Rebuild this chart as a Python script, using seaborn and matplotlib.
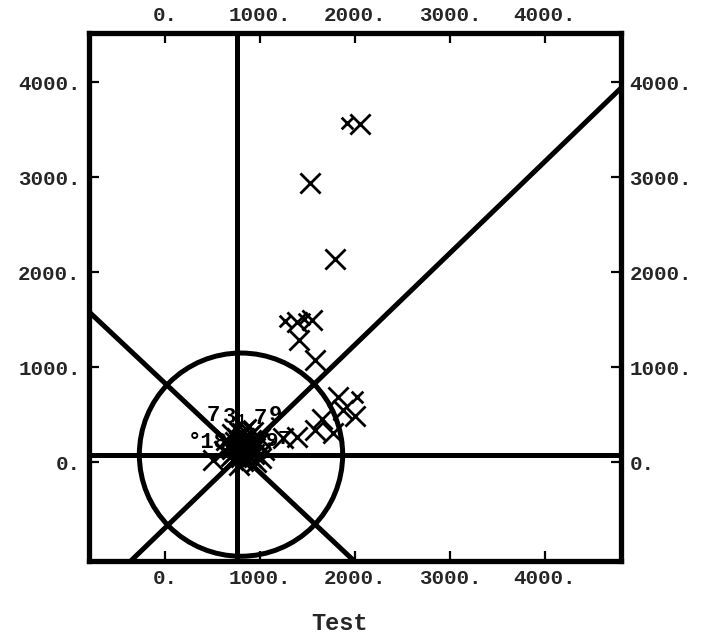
import matplotlib
matplotlib.use("Agg")
import matplotlib.pyplot as plt
from matplotlib.patches import Circle
import pandas as pd
import seaborn as sns

# --- data -------------------------------------------------------------
# large cross markers (Test, reference)
big_x = [2050, 1530, 1790, 1390, 1550, 1410, 1580, 1820, 2000, 1870,
         1650, 1390, 1580, 1770, 1240, 505,
         700, 760, 820, 880, 950, 800, 730, 900, 850, 680, 1000, 780,
         640, 720, 810, 930, 1040, 690, 870, 960, 760, 1010, 840, 620,
         740, 830, 910, 780, 860, 700, 980, 800, 890, 750, 820, 940]
big_y = [3560, 2940, 2140, 1480, 1500, 1290, 1080, 690, 490, 550,
         460, 270, 340, 310, 250, 20,
         300, 250, 200, 280, 150, 50, 100, 50, 350, 180, 250, -30,
         230, 20, 310, 320, 130, 70, 190, 0, 160, 40, 110, 120,
         210, 260, 230, 140, 80, 140, 200, 170, 120, 60, 10, 90]
# small cross markers
small_x = [1920, 1260, 1460, 2020, 880, 740]
small_y = [3570, 1490, 1510, 690, 380, 360]

# point identifiers written next to the central cluster
id_text = ["7", "3", "1", "7", "9", "\u00b018", "9", "7"]
id_x = [505, 684, 800, 1000, 1158, 453, 1126, 1253]
id_y = [495, 474, 442, 463, 495, 210, 232, 253]
id_size = [16, 16, 11, 16, 16, 16, 15, 15]

# reference centre, radius and slopes of the guide lines
centre = (800, 80)
radius = 1070
slope_up = 0.965
slope_down = -0.94

ticks = [0, 1000, 2000, 3000, 4000]
tick_labels = ["0.", "1000.", "2000.", "3000.", "4000."]
x_label = "Test"

# --- figure -----------------------------------------------------------
sns.set_style("white")
plt.rcParams["font.family"] = ["Liberation Mono", "DejaVu Sans Mono"]
plt.rcParams["font.weight"] = "bold"

fig = plt.figure(figsize=(7.02, 6.38), dpi=100)
ax = fig.add_axes([89 / 702, 77 / 638, 532 / 702, 528 / 638])

big = pd.DataFrame({"x": big_x, "y": big_y})
small = pd.DataFrame({"x": small_x, "y": small_y})

lw = 3.6
ax.axvline(centre[0] - 40, color="black", lw=lw, zorder=2)
ax.axhline(centre[1], color="black", lw=lw, zorder=2)
ax.axline(centre, slope=slope_up, color="black", lw=lw, zorder=2)
ax.axline(centre, slope=slope_down, color="black", lw=lw, zorder=2)
ax.add_patch(Circle(centre, radius, fill=False, edgecolor="black",
                    lw=lw, zorder=2))

sns.scatterplot(data=big, x="x", y="y", marker="x", s=210, color="black",
                linewidth=2.0, ax=ax, zorder=3, legend=False)
sns.scatterplot(data=small, x="x", y="y", marker="x", s=70, color="black",
                linewidth=2.0, ax=ax, zorder=3, legend=False)

for t, tx, ty, fs in zip(id_text, id_x, id_y, id_size):
    ax.text(tx, ty, t, fontsize=fs, fontweight="bold", ha="center",
            va="center", color="black", zorder=4)

ax.set_xlim(-800, 4800)
ax.set_ylim(-1040, 4520)

ax.set_xticks(ticks)
ax.set_xticklabels(tick_labels)
ax.set_yticks(ticks)
ax.set_yticklabels(tick_labels)
ax.tick_params(axis="both", which="both", direction="in", length=7,
               width=1.6, color="black", labelsize=15, pad=6,
               top=True, bottom=True, left=True, right=True,
               labeltop=True, labelbottom=True, labelleft=True,
               labelright=True)
for lab in ax.get_xticklabels() + ax.get_yticklabels():
    lab.set_fontweight("bold")
ax.set_xlabel("")
ax.set_ylabel("")

for sp in ax.spines.values():
    sp.set_visible(True)
    sp.set_linewidth(3.8)
    sp.set_color("black")

fig.text(339 / 702, 1 - 623 / 638, x_label, ha="center", va="center",
         fontsize=17, fontweight="bold")

fig.savefig("out.png", dpi=100, facecolor="white")
